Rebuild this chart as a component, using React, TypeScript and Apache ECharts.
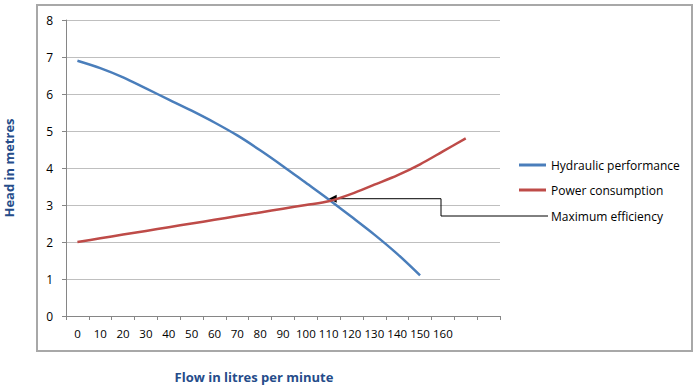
import React, { useEffect, useRef } from "react";
import * as echarts from "echarts";

const flowLabels = ["0", "10", "20", "30", "40", "50", "60", "70", "80", "90", "100", "110", "120", "130", "140", "150", "160", "", ""];
const hydraulic = [6.9, 6.7, 6.45, 6.15, 5.85, 5.55, 5.23, 4.88, 4.48, 4.05, 3.6, 3.15, 2.68, 2.2, 1.68, 1.1];
const power = [2.0, 2.1, 2.2, 2.3, 2.4, 2.5, 2.6, 2.7, 2.8, 2.9, 3.0, 3.1, 3.3, 3.55, 3.8, 4.1, 4.45, 4.8];
const seriesNames = ["Hydraulic performance", "Power consumption"];
const annotationText = "Maximum efficiency";
const efficiencyPoint = [11.2, 3.17];
const yTitle = "Head in metres";
const xTitle = "Flow in litres per minute";

const FONT = "'Open Sans', 'Noto Sans', sans-serif";
const TITLE_COLOR = "#254C8A";

export default function App() {
  const ref = useRef<HTMLDivElement>(null);
  useEffect(() => {
    if (!ref.current) return;
    const chart = echarts.init(ref.current, undefined, { renderer: "svg" });
    chart.setOption({
      animation: false,
      backgroundColor: "#fff",
      textStyle: { fontFamily: FONT },
      grid: { left: 66, top: 20, width: 434, height: 296 },
      legend: {
        orient: "vertical",
        left: 519,
        top: 158,
        padding: 0,
        itemWidth: 27,
        itemHeight: 3,
        itemGap: 11,
        icon: "rect",
        data: seriesNames,
        textStyle: { color: "#000", fontSize: 12, lineHeight: 14, fontFamily: FONT },
      },
      xAxis: {
        type: "category",
        data: flowLabels,
        boundaryGap: true,
        axisLine: { lineStyle: { color: "#868686", width: 1 } },
        axisTick: { show: true, length: 4, interval: 0, lineStyle: { color: "#868686" } },
        axisLabel: { interval: 0, color: "#000", fontSize: 11.5, margin: 11, fontFamily: FONT },
        splitLine: { show: false },
      },
      yAxis: {
        type: "value",
        min: 0,
        max: 8,
        interval: 1,
        axisLine: { show: true, lineStyle: { color: "#868686", width: 1 } },
        axisTick: { show: true, length: 4, lineStyle: { color: "#868686" } },
        axisLabel: { color: "#000", fontSize: 12, margin: 13, fontFamily: FONT },
        splitLine: { lineStyle: { color: "#BFBFBF", width: 1 } },
      },
      series: [
        {
          name: seriesNames[0],
          type: "line",
          data: hydraulic,
          smooth: 0.3,
          showSymbol: false,
          symbol: "none",
          lineStyle: { color: "#4A7EBB", width: 2.5 },
          itemStyle: { color: "#4A7EBB" },
        },
        {
          name: seriesNames[1],
          type: "line",
          data: power,
          smooth: 0.3,
          showSymbol: false,
          symbol: "none",
          lineStyle: { color: "#BE4B48", width: 2.5 },
          itemStyle: { color: "#BE4B48" },
        },
      ],
    });

    const tip = chart.convertToPixel({ gridIndex: 0 }, efficiencyPoint) as number[];
    const tx = tip[0];
    const ty = tip[1];
    const elbowX = 441;
    const rowY = 216;
    chart.setOption({
      graphic: [
        {
          type: "rect",
          shape: { x: 37, y: 5, width: 655, height: 346 },
          style: { fill: "none", stroke: "#A8A8A8", lineWidth: 2 },
          silent: true,
        },
        {
          type: "polyline",
          shape: { points: [[tx + 7, ty], [elbowX, ty], [elbowX, rowY], [548, rowY]] },
          style: { stroke: "#000", lineWidth: 1, fill: "none" },
        },
        {
          type: "polygon",
          shape: { points: [[tx, ty], [tx + 8, ty - 4], [tx + 8, ty + 4]] },
          style: { fill: "#000" },
        },
        {
          type: "text",
          x: 551,
          y: rowY,
          style: { text: annotationText, fill: "#000", font: `12px ${FONT}`, verticalAlign: "middle", align: "left" },
        },
        {
          type: "text",
          x: 9,
          y: 168,
          rotation: Math.PI / 2,
          style: { text: yTitle, fill: TITLE_COLOR, font: `bold 13px ${FONT}`, align: "center", verticalAlign: "middle" },
        },
        {
          type: "text",
          x: 254,
          y: 377,
          style: { text: xTitle, fill: TITLE_COLOR, font: `bold 13px ${FONT}`, align: "center", verticalAlign: "middle" },
        },
      ],
    });

    return () => chart.dispose();
  }, []);
  return <div ref={ref} style={{ position: "absolute", left: 0, top: 0, width: 700, height: 387 }} />;
}
